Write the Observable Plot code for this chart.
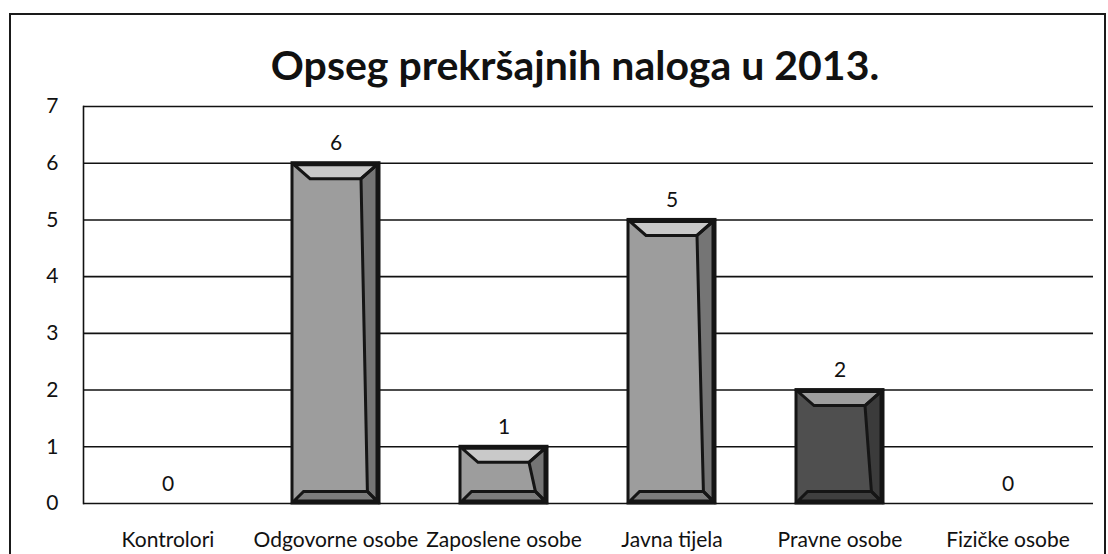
<!DOCTYPE html>
<html>
<head>
<meta charset="utf-8">
<script src="https://cdn.jsdelivr.net/npm/d3@7"></script>
<script src="https://cdn.jsdelivr.net/npm/@observablehq/plot@0.6"></script>
<style>
  html, body { margin: 0; padding: 0; background: #fff; }
  #wrap { position: relative; width: 1108px; height: 554px; overflow: hidden; font-family: Lato, "Open Sans", sans-serif; }
  #border { position: absolute; left: 9px; top: 13px; width: 1093px; height: 600px; border: 2px solid #1a1a1a; }
  #title { position: absolute; left: 0; top: 42px; width: 1150px; text-align: center; font-size: 41px; font-weight: 700; color: #111; line-height: 46px; }
  #chart { position: absolute; left: 0; top: 80px; }
</style>
</head>
<body>
<div id="wrap">
  <div id="border"></div>
  <div id="title">Opseg prekršajnih naloga u 2013.</div>
  <div id="chart"></div>
</div>
<script>
const categories = ["Kontrolori", "Odgovorne osobe", "Zaposlene osobe", "Javna tijela", "Pravne osobe", "Fizičke osobe"];
const values = [0, 6, 1, 5, 2, 0];
const yTicks = [0, 1, 2, 3, 4, 5, 6, 7];

const data = categories.map((c, i) => ({category: c, value: values[i]}));
const darkCategory = "Pravne osobe";
const fillFor = d => d.category === darkCategory ? "#4f4f4f" : "#9d9d9d";

const chart = Plot.plot({
  width: 1108,
  height: 474,
  marginTop: 26,
  marginBottom: 51,
  marginLeft: 83,
  marginRight: 15,
  style: {fontFamily: "Lato, 'Open Sans', sans-serif", fontSize: "21px", color: "#111", background: "transparent"},
  x: {domain: categories, paddingInner: 0.48, paddingOuter: 0.24, label: null},
  y: {domain: [0, 7], label: null},
  marks: [
    Plot.ruleY(yTicks, {stroke: "#111", strokeWidth: 1.6}),
    Plot.frame({anchor: "left", stroke: "#111", strokeWidth: 1.6}),
    Plot.barY(data, {x: "category", y: "value", fill: fillFor, stroke: "#151515", strokeWidth: 3, className: "bars"}),
    Plot.text(data, {x: "category", y: "value", text: d => String(d.value), lineAnchor: "bottom", dy: -13, fontSize: 21, fill: "#111"}),
    Plot.axisY({ticks: yTicks, tickSize: 0, tickPadding: 25, tickFormat: d => String(d), fontSize: 21}),
    Plot.axisX({tickSize: 0, tickPadding: 29, fontSize: 21})
  ]
});
document.getElementById("chart").appendChild(chart);

// bevel highlight on each bar, derived from the rendered bar geometry
const svg = d3.select(chart);
svg.selectAll("g.bars rect").each(function() {
  const r = d3.select(this);
  const x = +r.attr("x"), y = +r.attr("y"), w = +r.attr("width"), h = +r.attr("height");
  if (!(h > 0)) return;
  const b = Math.min(16, h / 2);
  const g = d3.select(this.parentNode);
  g.append("polygon")
    .attr("points", [[x + 2, y + 2], [x + w - 2, y + 2], [x + w - 2 - b, y + b], [x + 2 + b, y + b]].map(p => p.join(",")).join(" "))
    .attr("fill", "#ffffff").attr("fill-opacity", 0.45);
  g.append("polygon")
    .attr("points", [[x + w - 2, y + 2], [x + w - 2, y + h - 2], [x + w - 2 - b * 0.6, y + h - 2 - b * 0.6], [x + w - 2 - b, y + b]].map(p => p.join(",")).join(" "))
    .attr("fill", "#000").attr("fill-opacity", 0.25);
  g.append("polygon")
    .attr("points", [[x + 2, y + h - 2], [x + w - 2, y + h - 2], [x + w - 2 - b * 0.6, y + h - 2 - b * 0.6], [x + 2 + b * 0.6, y + h - 2 - b * 0.6]].map(p => p.join(",")).join(" "))
    .attr("fill", "#000").attr("fill-opacity", 0.2);
});
</script>
</body>
</html>
